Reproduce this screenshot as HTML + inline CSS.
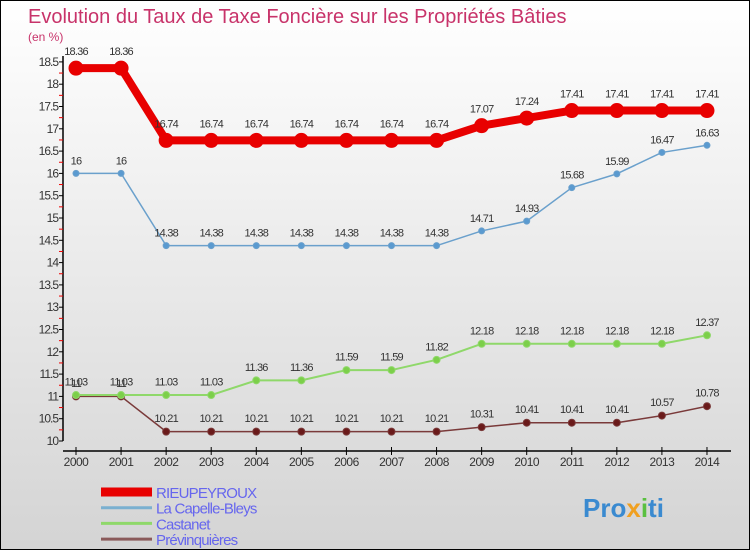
<!DOCTYPE html>
<html><head><meta charset="utf-8"><style>
body{margin:0;}
#c{width:750px;height:550px;position:relative;box-sizing:border-box;border:1px solid #000;background:linear-gradient(#ffffff,#d4d4d4);overflow:hidden;font-family:"Liberation Sans",sans-serif;}
</style></head><body>
<div id="c">
<svg id="s" width="750" height="550" style="position:absolute;left:0;top:0">
<text x="27" y="22" font-size="20" fill="#c8336a">Evolution du Taux de Taxe Foncière sur les Propriétés Bâties</text>
<text x="27" y="40" font-size="12" fill="#c8336a">(en %)</text>
</svg>
</div>
<script>
const years=[2000,2001,2002,2003,2004,2005,2006,2007,2008,2009,2010,2011,2012,2013,2014];
const rieupeyroux=[18.36,18.36,16.74,16.74,16.74,16.74,16.74,16.74,16.74,17.07,17.24,17.41,17.41,17.41,17.41];
const capelle=[16,16,14.38,14.38,14.38,14.38,14.38,14.38,14.38,14.71,14.93,15.68,15.99,16.47,16.63];
const castanet=[11.03,11.03,11.03,11.03,11.36,11.36,11.59,11.59,11.82,12.18,12.18,12.18,12.18,12.18,12.37];
const previn=[11,11,10.21,10.21,10.21,10.21,10.21,10.21,10.21,10.31,10.41,10.41,10.41,10.57,10.78];
const yTicks=[10,10.5,11,11.5,12,12.5,13,13.5,14,14.5,15,15.5,16,16.5,17,17.5,18,18.5];
const seriesNames=["RIEUPEYROUX","La Capelle-Bleys","Castanet","Prévinquières"];
const svg=document.getElementById('s');const NS='http://www.w3.org/2000/svg';
const X=i=>75+i*45.07;const Y=v=>440-(v-10)*44.6;
function el(t,a,p){const e=document.createElementNS(NS,t);for(const k in a)e.setAttribute(k,a[k]);(p||svg).appendChild(e);return e;}
// axes
let ax=el('line',{x1:62,y1:55,x2:62,y2:440,stroke:'#000','stroke-width':1.5});


let xa=el('line',{x1:62,y1:450,x2:730,y2:450,stroke:'#000','stroke-width':1.5});


yTicks.forEach(v=>{
 el('line',{x1:58,y1:Y(v),x2:62,y2:Y(v),stroke:'#000'});
 if(v<18.5)el('line',{x1:58,y1:Y(v+0.25),x2:62,y2:Y(v+0.25),stroke:'#e00'});
 const t=el('text',{x:57,y:Y(v)+4,'font-size':12,'text-anchor':'end',fill:'#333','letter-spacing':'-1'});
 t.textContent=String(v);
 
 
});
years.forEach((y,i)=>{
 el('line',{x1:X(i),y1:446,x2:X(i),y2:454,stroke:'#000'});
 const t=el('text',{x:X(i),y:465,'font-size':12,'text-anchor':'middle',fill:'#333','letter-spacing':'-0.5'});
 t.textContent=y;
 
 
});
function series(d,col,w,r,name,dot){
 const g=el('g',{});
 
 
 el('polyline',{points:d.map((v,i)=>X(i)+','+Y(v)).join(' '),fill:'none',stroke:col,'stroke-width':w,'stroke-linejoin':'round'},g);
 d.forEach((v,i)=>{
  const c=el('circle',{cx:X(i),cy:Y(v),r:r,fill:dot,stroke:col,'stroke-width':1},g);
  
  
  const t=el('text',{x:X(i),y:Y(v)-r-6,'font-size':11,'text-anchor':'middle',fill:'#333','letter-spacing':'-0.8'},g);
  t.textContent=v;
  
  
 });
}
series(previn,'#7a3a3a',1.5,3.5,'previnquieres-series','#6a1a1a');
series(castanet,'#8fd86a',2,3.5,'castanet-series','#7ccf4a');
series(capelle,'#6aa0cc',1.5,3,'capelle-bleys-series','#5a9ad0');
series(rieupeyroux,'#e80000',8,7,'rieupeyroux-series','#e80000');
const lc=['#e80000','#7ab0d0','#8fd86a','#8a5a5a'];const lw=[9,3,3,3];
seriesNames.forEach((n,i)=>{
 const y=491+i*15.7;
 const g=el('g',{});
 
 
 el('line',{x1:100,y1:y,x2:151,y2:y,stroke:lc[i],'stroke-width':lw[i]},g);
 const t=el('text',{x:155,y:y+6,'font-size':15,fill:'#6666ee','letter-spacing':'-0.8'},g);
 t.textContent=n;
});
const lg=el('text',{x:582,y:516,'font-size':26,'font-weight':'bold',fill:'#3a8ad0'});
lg.innerHTML='Pro<tspan fill="#f0a020">x</tspan><tspan fill="#5ac040">i</tspan>ti';


</script>
</body></html>
